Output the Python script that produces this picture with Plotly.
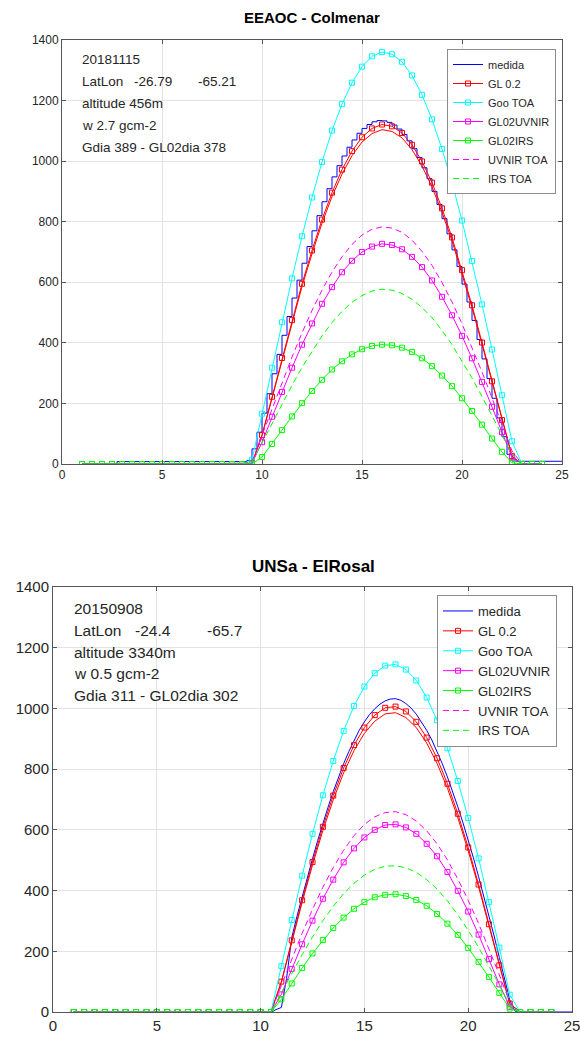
import numpy as np
import plotly.graph_objects as go

W, H = 580, 1037
FONT = "Liberation Sans, Arial, Helvetica, sans-serif"
INK = "#262626"

# Sample times in hours
t_model = np.arange(1.0, 24.01, 0.5)    # model output every 30 min
t_meas = np.arange(1.0, 25.01, 0.25)    # measurements every 15 min

# ---------------- EEAOC - Colmenar (20181115) ----------------
col_medida = [0] * 8 + [8] * 26 + [
    12, 50, 105, 168, 232, 298, 362, 425, 487, 548, 607, 663, 718, 770,
    820, 866, 909, 948, 985, 1017, 1046, 1070, 1092, 1108, 1121, 1130,
    1134, 1133, 1128, 1119, 1106, 1088, 1067, 1041, 1012, 978, 942, 900,
    857, 810, 760, 707, 652, 594, 535, 474, 411, 347, 282, 217, 152, 90,
    32, 10] + [9] * 9
col_gl = [0] * 17 + [
    2, 95, 222, 350, 475, 595, 705, 807, 896, 972, 1033, 1079, 1108, 1121,
    1115, 1093, 1054, 999, 929, 844, 748, 640, 524, 401, 273, 145, 26] + [0] * 3
col_gl_b = [0] * 17 + [
    2, 94, 219, 345, 468, 586, 694, 795, 883, 957, 1018, 1063, 1091, 1104,
    1098, 1077, 1038, 984, 915, 831, 737, 630, 516, 395, 269, 143, 26] + [0] * 3
col_goo = [0] * 17 + [
    14, 166, 318, 468, 613, 752, 880, 997, 1101, 1188, 1259, 1312, 1346,
    1360, 1353, 1328, 1283, 1219, 1138, 1040, 929, 804, 670, 527, 378, 227,
    75] + [0] * 3
col_uvnir = [0] * 17 + [
    2, 72, 156, 238, 318, 394, 464, 529, 584, 633, 671, 700, 718, 727, 723,
    709, 684, 650, 606, 552, 491, 423, 349, 271, 189, 105, 22] + [0] * 3
col_irs = [0] * 17 + [
    0, 23, 66, 112, 157, 201, 241, 278, 312, 339, 362, 379, 390, 394, 392,
    384, 370, 349, 323, 292, 257, 217, 175, 130, 84, 40, 4] + [0] * 3
col_uvnir_toa = [0] * 17 + [
    8, 96, 183, 270, 353, 433, 507, 574, 634, 684, 725, 756, 775, 783, 779,
    765, 739, 702, 656, 599, 535, 463, 386, 304, 218, 131, 43] + [0] * 3
col_irs_toa = [0] * 17 + [
    6, 70, 135, 198, 260, 319, 373, 423, 467, 504, 534, 556, 571, 577, 574,
    563, 544, 517, 483, 441, 394, 341, 284, 223, 160, 96, 32] + [0] * 3

# ---------------- UNSa - ElRosal (20150908) ----------------
ros_medida = [0] * 39 + [
    8, 15, 110, 245, 315, 380, 445, 505, 565, 622, 675, 726, 773, 818, 858,
    895, 928, 956, 980, 999, 1014, 1025, 1031, 1032, 1027, 1016, 1001, 981,
    956, 928, 896, 859, 818, 774, 727, 676, 623, 567, 508, 446, 383, 318,
    250, 180, 110, 40, 3] + [0] * 11
ros_gl = [0] * 20 + [
    100, 236, 368, 494, 610, 713, 804, 879, 937, 978, 1002, 1006, 990, 956,
    904, 836, 752, 653, 542, 420, 289, 154, 28] + [0] * 4
ros_gl_b = [0] * 20 + [
    98, 231, 361, 484, 598, 699, 788, 861, 918, 958, 982, 986, 970, 937,
    886, 819, 737, 640, 531, 412, 283, 151, 27] + [0] * 4
ros_goo = [0] * 20 + [
    151, 303, 449, 587, 714, 827, 926, 1008, 1072, 1116, 1141, 1145, 1128,
    1092, 1036, 961, 869, 761, 639, 506, 362, 212, 57] + [0] * 4
ros_uvnir = [0] * 20 + [
    58, 142, 223, 301, 373, 436, 493, 539, 575, 600, 616, 618, 608, 587,
    554, 513, 461, 399, 331, 255, 174, 91, 17] + [0] * 4
ros_irs = [0] * 20 + [
    42, 94, 145, 193, 237, 277, 311, 340, 362, 378, 386, 388, 382, 369,
    350, 323, 291, 254, 211, 165, 115, 63, 11] + [0] * 4
ros_uvnir_toa = [0] * 20 + [
    87, 175, 259, 338, 411, 476, 533, 581, 618, 643, 657, 660, 650, 629,
    597, 554, 501, 438, 368, 292, 209, 122, 33] + [0] * 4
ros_irs_toa = [0] * 20 + [
    64, 128, 189, 247, 301, 348, 390, 424, 451, 470, 480, 482, 475, 460,
    436, 405, 366, 320, 269, 213, 152, 89, 24] + [0] * 4

for arr in (col_gl, col_gl_b, col_goo, col_uvnir, col_irs, col_uvnir_toa,
            col_irs_toa, ros_gl, ros_gl_b, ros_goo, ros_uvnir, ros_irs,
            ros_uvnir_toa, ros_irs_toa):
    assert len(arr) == len(t_model)
assert len(col_medida) == len(t_meas) and len(ros_medida) == len(t_meas)

x_ticks = [0, 5, 10, 15, 20, 25]
y_ticks = [0, 200, 400, 600, 800, 1000, 1200, 1400]

BLUE, RED, CYAN, MAG, GRN = "#0000ff", "#ff0000", "#00ffff", "#ff00ff", "#00ff00"

fig = go.Figure()


def add_panel(xa, ya, leg, medida, medida_shape, gl, gl_b, goo, uvnir, irs,
              uvnir_toa, irs_toa):
    common = dict(xaxis=xa, yaxis=ya, legend=leg)
    mk = dict(symbol="square-open", size=5, line=dict(width=1))
    fig.add_trace(go.Scatter(x=t_meas, y=medida, name="medida", mode="lines",
                             line=dict(color=BLUE, width=1, shape=medida_shape),
                             **common))
    fig.add_trace(go.Scatter(x=t_model, y=gl, name="GL 0.2", mode="lines+markers",
                             line=dict(color=RED, width=1),
                             marker=dict(color=RED, **mk), **common))
    fig.add_trace(go.Scatter(x=t_model, y=gl_b, mode="lines", showlegend=False,
                             line=dict(color=RED, width=1), hoverinfo="skip",
                             **common))
    fig.add_trace(go.Scatter(x=t_model, y=goo, name="Goo TOA", mode="lines+markers",
                             line=dict(color=CYAN, width=1),
                             marker=dict(color=CYAN, **mk), **common))
    fig.add_trace(go.Scatter(x=t_model, y=uvnir, name="GL02UVNIR",
                             mode="lines+markers", line=dict(color=MAG, width=1),
                             marker=dict(color=MAG, **mk), **common))
    fig.add_trace(go.Scatter(x=t_model, y=irs, name="GL02IRS", mode="lines+markers",
                             line=dict(color=GRN, width=1),
                             marker=dict(color=GRN, **mk), **common))
    fig.add_trace(go.Scatter(x=t_model, y=uvnir_toa, name="UVNIR TOA", mode="lines",
                             line=dict(color=MAG, width=1, dash="6px,4px"),
                             **common))
    fig.add_trace(go.Scatter(x=t_model, y=irs_toa, name="IRS TOA", mode="lines",
                             line=dict(color=GRN, width=1, dash="6px,4px"),
                             **common))


add_panel("x", "y", "legend", col_medida, "vh", col_gl, col_gl_b, col_goo,
          col_uvnir, col_irs, col_uvnir_toa, col_irs_toa)
add_panel("x2", "y2", "legend2", ros_medida, "linear", ros_gl, ros_gl_b, ros_goo,
          ros_uvnir, ros_irs, ros_uvnir_toa, ros_irs_toa)


def px_x(p):
    return min(max(p / W, 0.0), 1.0)


def px_y(p):
    return min(max(1 - p / H, 0.0), 1.0)


def axis(domain, rng, ticks, size, anchor):
    return dict(domain=domain, range=rng, tickmode="array", tickvals=ticks,
                automargin=False, ticklabeloverflow="allow",
                showgrid=True, gridcolor="#e3e3e3", gridwidth=1, zeroline=False,
                showline=True, linecolor="#555555", linewidth=1, mirror="ticks",
                ticks="inside", ticklen=4, tickcolor="#555555",
                tickfont=dict(family=FONT, size=size, color=INK), anchor=anchor)


layout = dict(
    width=W, height=H, autosize=False,
    margin=dict(l=0, r=0, t=0, b=0, pad=0),
    paper_bgcolor="white", plot_bgcolor="white",
    font=dict(family=FONT, color=INK),
    xaxis=axis([px_x(62), px_x(562)], [0, 25], x_ticks, 12, "y"),
    yaxis=axis([px_y(464), px_y(40)], [0, 1400], y_ticks, 12, "x"),
    xaxis2=axis([px_x(53), px_x(572)], [0, 25], x_ticks, 15, "y2"),
    yaxis2=axis([px_y(1012), px_y(587)], [0, 1400], y_ticks, 15, "x2"),
    legend=dict(x=px_x(447), y=px_y(49), xanchor="left", yanchor="top",
                bgcolor="white", bordercolor="#8c8c8c", borderwidth=1,
                font=dict(family=FONT, size=11, color=INK), tracegroupgap=0),
    legend2=dict(x=px_x(437), y=px_y(595), xanchor="left", yanchor="top",
                 bgcolor="white", bordercolor="#8c8c8c", borderwidth=1,
                 font=dict(family=FONT, size=13, color=INK), tracegroupgap=0),
    showlegend=True,
)
fig.update_layout(**layout)


def text(x, y, s, size, bold=False, anchor="left"):
    fig.add_annotation(xref="paper", yref="paper", x=px_x(x), y=px_y(y),
                       text=f"<b>{s}</b>" if bold else s, showarrow=False,
                       xanchor=anchor, yanchor="middle",
                       font=dict(family=FONT, size=size, color="black" if bold else INK))


# Panel titles
text(312, 18, "EEAOC - Colmenar", 15, bold=True, anchor="center")
text(313, 566, "UNSa - ElRosal", 17, bold=True, anchor="center")

# Station information
for y, s in [(59, "20181115"), (81, "LatLon"), (103, "altitude 456m"),
             (125, "w 2.7 gcm-2"), (147, "Gdia 389 - GL02dia 378")]:
    text(80, y, s, 13.5)
text(132, 81, "-26.79", 13.5)
text(196, 81, "-65.21", 13.5)

for y, s in [(608, "20150908"), (630, "LatLon"), (652, "altitude 3340m"),
             (673, "w 0.5 gcm-2"), (695, "Gdia 311 - GL02dia 302")]:
    text(72, y, s, 15.5)
text(133, 630, "-24.4", 15.5)
text(205, 630, "-65.7", 15.5)

fig.write_html("out.html")
